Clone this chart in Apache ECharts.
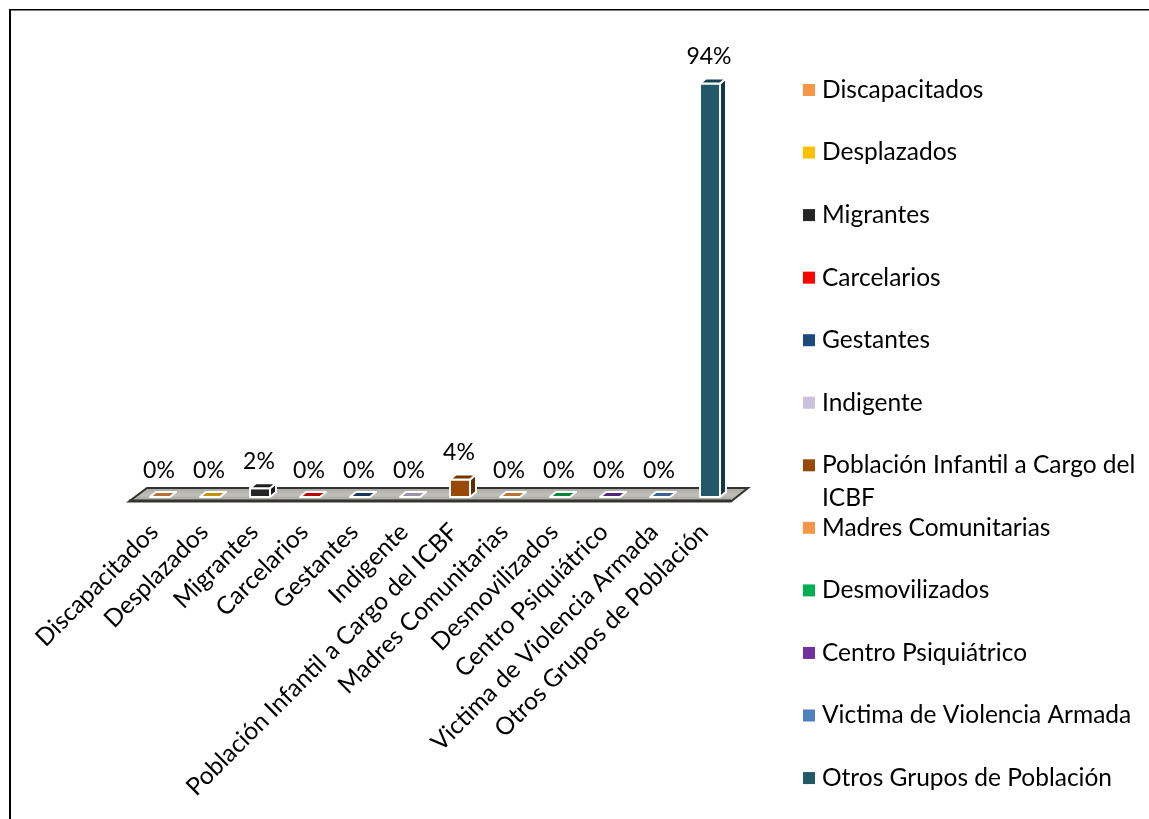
<!DOCTYPE html>
<html><head><meta charset="utf-8">
<style>html,body{margin:0;padding:0;background:#fff}#c{width:1149px;height:819px}</style>
<script src="https://cdn.jsdelivr.net/npm/echarts@6/dist/echarts.min.js"></script>
</head><body><div id="c"></div>
<script>
const categories = ["Discapacitados","Desplazados","Migrantes","Carcelarios","Gestantes","Indigente","Población Infantil a Cargo del ICBF","Madres Comunitarias","Desmovilizados","Centro Psiquiátrico","Victima de Violencia Armada","Otros Grupos de Población"];
const values = [0,0,2,0,0,0,4,0,0,0,0,94];
const colors = ["#F79646","#FFC000","#262626","#FF0000","#1F497D","#CCC1DA","#984807","#F79646","#00B050","#7030A0","#4F81BD","#215968"];
const FONT = "Lato";
const FS = 24.5;
const LABEL_FS = 23;

function shade(hex, k){
  const n = parseInt(hex.slice(1),16);
  const c = [n>>16, (n>>8)&255, n&255].map(v=>Math.round(v*k));
  return `rgb(${c[0]},${c[1]},${c[2]})`;
}
const DX = 6, DY = 5, HALF = 10, SHIFT = 1;
function renderBar(params, api){
  const x = api.value(0), v = api.value(1);
  const base = api.coord([x,0]), top = api.coord([x,v]);
  const c = api.visual('color');
  const l = base[0]-HALF+SHIFT, r = base[0]+HALF+SHIFT, b = base[1], t = top[1];
  const edge = {stroke:'#fff', lineWidth:2, lineJoin:'round'};
  const ch = [];
  if (v > 0) {
    ch.push({type:'polygon',shape:{points:[[r,b],[r+DX,b-DY],[r+DX,t-DY],[r,t]]},style:{fill:shade(c,0.62),...edge}});
    ch.push({type:'rect',shape:{x:l,y:t,width:r-l,height:b-t},style:{fill:c,...edge}});
  }
  ch.push({type:'polygon',shape:{points:[[l,t],[r,t],[r+DX,t-DY],[l+DX,t-DY]]},style:{fill:shade(c,0.75),...edge}});
  ch.push({type:'text',style:{text:v+'%',x:base[0],y:t-26.5,align:'center',verticalAlign:'middle',font:`${LABEL_FS}px ${FONT}`,fill:'#000'}});
  return {type:'group',children:ch};
}
function renderFloor(params, api){
  const g = params.coordSys;
  const y = g.y+g.height;
  const L = g.x, R = g.x+g.width;
  return {type:'group',children:[
    {type:'polygon',shape:{points:[[L-5,y+4.5],[R-3,y+4.5],[R+14,y-9],[L+13,y-9]]},
      style:{fill:{type:'linear',x:0,y:0,x2:0,y2:1,colorStops:[{offset:0,color:'#a5a39d'},{offset:0.5,color:'#c2c0ba'},{offset:1,color:'#9c9a94'}]},stroke:'#33332f',lineWidth:2,lineJoin:'miter'}},
    {type:'rect',shape:{x:L-5,y:y+2.5,width:R-L+2,height:2.5},style:{fill:'#33332f'}}
  ]};
}

const series = [{
  name:'floor',type:'custom',coordinateSystem:'cartesian2d',silent:true,z:1,
  data:[[categories[0],0]],renderItem:renderFloor
}].concat(categories.map((name,i)=>({
  name,type:'custom',coordinateSystem:'cartesian2d',z:2,
  itemStyle:{color:colors[i]},
  encode:{x:0,y:1},
  data:[[name,values[i]]],
  renderItem:renderBar
})));

const chart = echarts.init(document.getElementById('c'),null,{renderer:'canvas'});
chart.setOption({
  animation:false,
  backgroundColor:'#fff',
  grid:{left:134,right:415,top:57,bottom:322,containLabel:false},
  xAxis:{type:'category',data:categories,axisLine:{show:false},axisTick:{show:false},
    axisLabel:{interval:0,rotate:45,margin:26,padding:[0,7,0,0],fontFamily:FONT,fontSize:FS,color:'#000'}},
  yAxis:{type:'value',min:0,max:100,show:false,splitLine:{show:false}},
  legend:{orient:'vertical',left:803,top:76,padding:0,itemWidth:12,itemHeight:12,itemGap:34.55,
    icon:'rect',selectedMode:false,data:categories,
    formatter:n=>n.replace(' ICBF',''),
    textStyle:{fontFamily:FONT,fontSize:FS,color:'#000',lineHeight:28,padding:[0,0,0,2]}},
  graphic:[
    {type:'rect',shape:{x:9,y:9,width:2,height:810},style:{fill:'#000'},silent:true},
    {type:'rect',shape:{x:9,y:9,width:1140,height:1.5},style:{fill:'#000'},silent:true},
    {type:'text',left:822,top:486,style:{text:'ICBF',font:`${FS}px ${FONT}`,fill:'#000'},silent:true}
  ],
  series
});
</script></body></html>
